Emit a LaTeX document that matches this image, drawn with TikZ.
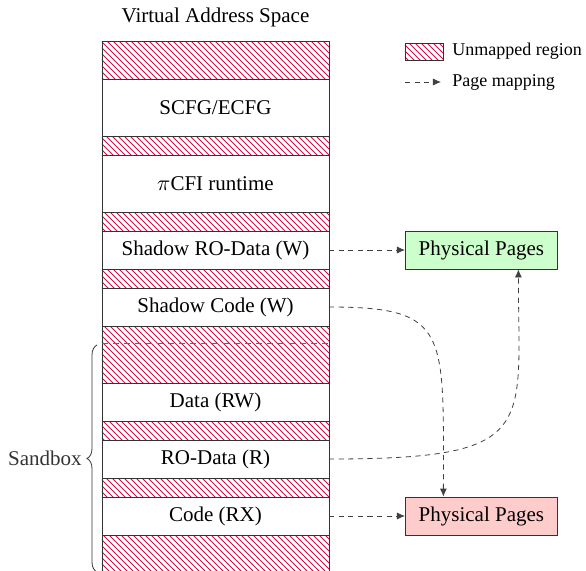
\documentclass[tikz,border=0pt]{standalone}
\usepackage{fontspec}
\setmainfont{Liberation Serif}
\usetikzlibrary{positioning,patterns,decorations.pathreplacing,arrows.meta}
\definecolor{hatchred}{RGB}{215,10,70}
\tikzset{
  region/.style={draw=black!80,minimum width=113.5pt,inner sep=0pt,outer sep=0pt},
  unmapped/.style={region,pattern=north west lines,pattern color=hatchred},
  physpages/.style={draw=black!80,minimum width=76pt,minimum height=19pt,inner sep=0pt},
  pagemap/.style={black!75,dash pattern=on 2.6pt off 2.2pt,-{Latex[length=4pt,width=3.5pt]}},
  legendtext/.style={font=\fontsize{9}{11}\selectfont},
}
\begin{document}
\fontsize{10.5}{12.6}\selectfont
\begin{tikzpicture}[x=0.5pt,y=-0.5pt]
\useasboundingbox (0,0) rectangle (586,570);
\node (title) at (215.5,17) {Virtual Address Space};
% address space column
\node[unmapped,minimum height=19pt,anchor=north] (u0) at (215.5,41) {};
\node[region,minimum height=28.5pt,below=0pt of u0] (cfg) {SCFG/ECFG};
\node[unmapped,minimum height=9.5pt,below=0pt of cfg] (u1) {};
\node[region,minimum height=28.5pt,below=0pt of u1] (rt) {$\pi$CFI runtime};
\node[unmapped,minimum height=9.5pt,below=0pt of rt] (u2) {};
\node[region,minimum height=19pt,below=0pt of u2] (srod) {Shadow RO-Data (W)};
\node[unmapped,minimum height=9.5pt,below=0pt of srod] (u3) {};
\node[region,minimum height=19pt,below=0pt of u3] (scode) {Shadow Code (W)};
\node[unmapped,minimum height=28.5pt,below=0pt of scode] (u4) {};
\node[region,minimum height=19pt,below=0pt of u4] (data) {Data (RW)};
\node[unmapped,minimum height=9.5pt,below=0pt of data] (u5) {};
\node[region,minimum height=19pt,below=0pt of u5] (rod) {RO-Data (R)};
\node[unmapped,minimum height=9.5pt,below=0pt of rod] (u6) {};
\node[region,minimum height=19pt,below=0pt of u6] (code) {Code (RX)};
\node[unmapped,minimum height=28.5pt,below=0pt of code] (u7) {};
% sandbox
\coordinate (sbline) at ([yshift=-8.5pt]u4.north west);
\draw[black!60,dash pattern=on 3pt off 2.5pt] (sbline) -- (sbline -| u4.east);
\coordinate (sbtop) at (97,345);
\coordinate (sbbot) at (97,572);
\draw[black!80,decorate,decoration={brace,amplitude=5pt}] (sbbot) -- (sbtop)
  node[midway,left=4pt] (sblabel) {Sandbox};
% physical pages
\node[physpages,fill=green!20,right=38pt of srod] (ppg) {Physical Pages};
\node[physpages,fill=red!20,right=38pt of code] (ppr) {Physical Pages};
\draw[pagemap] (srod) -- (ppg);
\draw[pagemap] (code) -- (ppr);
\draw[pagemap] (scode.east) .. controls +(121,0) and +(0,-165) .. ([xshift=-19pt]ppr.north);
\draw[pagemap] (rod.east) .. controls +(211,0) and +(0,160) .. ([xshift=18.5pt]ppg.south);
% legend
\node[unmapped,minimum width=19pt,minimum height=8.5pt] (lgbox) at (424,51.5) {};
\node[right=1pt of lgbox,legendtext] (lgtext) {Unmapped region};
\coordinate (lgs) at (405,82);
\coordinate (lge) at (441,82);
\draw[pagemap] (lgs) -- (lge);
\node[right=2pt of lge,legendtext] (lgmap) {Page mapping};
\end{tikzpicture}
\end{document}
